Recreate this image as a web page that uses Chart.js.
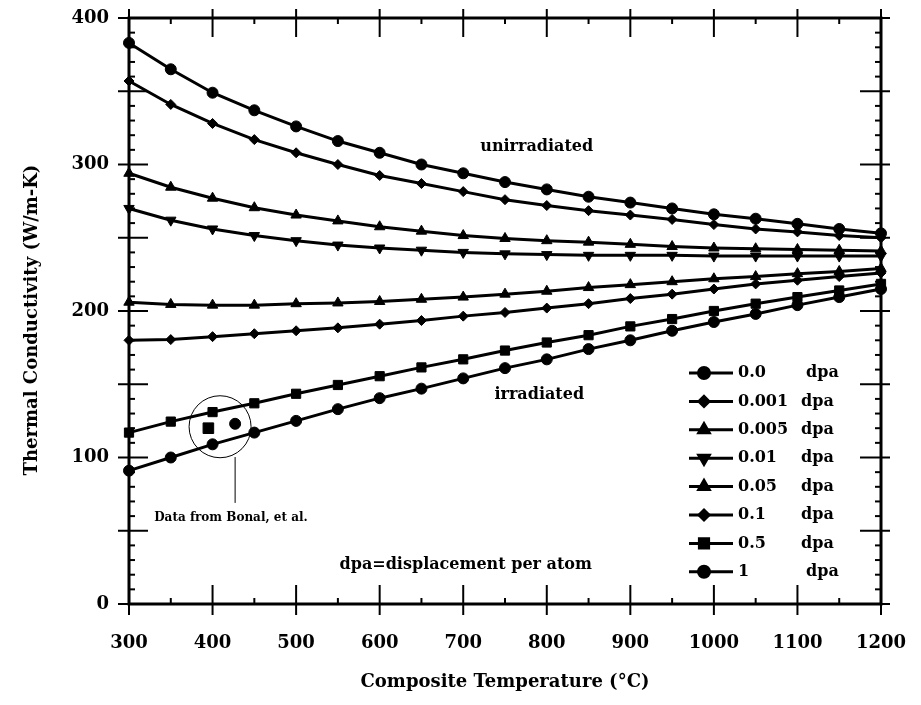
<!DOCTYPE html>
<html>
<head>
<meta charset="utf-8">
<title>Thermal Conductivity vs Composite Temperature</title>
<script src="https://cdn.jsdelivr.net/npm/chart.js@4.4.1/dist/chart.umd.min.js"></script>
<style>
  html, body { margin: 0; padding: 0; background: #fff; }
  canvas { display: block; }
</style>
</head>
<body>
<canvas id="myChart" width="921" height="705"></canvas>
<script>
/* globals Chart:false */
(() => {
  'use strict';

  // Composite temperature (°C), one point every 50 degrees
  const temps = [300, 350, 400, 450, 500, 550, 600, 650, 700, 750,
    800, 850, 900, 950, 1000, 1050, 1100, 1150, 1200];

  // Thermal conductivity (W/m-K) per damage level
  const k00 = [383, 365, 349, 337, 326, 316, 308, 300, 294, 288,
    283, 278, 274, 270, 266, 263, 259.5, 256, 253];
  const k0001 = [357, 341, 328, 317, 308, 300, 292.5, 287, 281.5, 276,
    272, 268.5, 265.5, 262.5, 259, 256, 254, 251.5, 250];
  const k0005 = [294, 284.5, 277, 270.5, 265.5, 261.5, 257.5, 254.5, 251.5, 249.5,
    248, 247, 245.5, 244, 243, 242.5, 242, 241.5, 241];
  const k001 = [270, 262, 256, 251.5, 248, 245, 243, 241.5, 240, 239,
    238.5, 238, 238, 238, 237.5, 237.5, 237.5, 237.5, 237.5];
  const k005 = [206, 204.5, 204, 204, 205, 205.5, 206.5, 208, 209.5, 211.5,
    213.5, 216, 218, 220, 222, 223.5, 225.5, 227, 229];
  const k01 = [180, 180.5, 182.5, 184.5, 186.5, 188.5, 191, 193.5, 196.5, 199,
    202, 205, 208.5, 211.5, 215, 218.5, 221, 223.5, 226];
  const k05 = [117, 124.5, 131, 137, 143.5, 149.5, 155.5, 161.5, 167, 173,
    178.5, 183.5, 189.5, 194.5, 200, 205, 209.5, 214, 218.5];
  const k1 = [91, 100, 109, 117, 125, 133, 140.5, 147, 154, 161,
    167, 174, 180, 186.5, 192.5, 198, 204, 209.5, 215];

  const dpaLabels = ['0.0', '0.001', '0.005', '0.01', '0.05', '0.1', '0.5', '1'];
  const seriesValues = [k00, k0001, k0005, k001, k005, k01, k05, k1];

  // Measured points (Bonal et al.)
  const bonalTemps = [395, 427];
  const bonalValues = [120, 123];

  // Axis ticks
  const xTicks = [300, 400, 500, 600, 700, 800, 900, 1000, 1100, 1200];
  const yTicks = [0, 100, 200, 300, 400];

  const FONT = 'DejaVu Serif';
  const markers = [
    { style: 'circle', radius: 5.5, rotation: 0 },
    { style: 'rectRot', radius: 5, rotation: 0 },
    { style: 'triangle', radius: 6, rotation: 0 },
    { style: 'triangle', radius: 6, rotation: 180 },
    { style: 'triangle', radius: 6, rotation: 0 },
    { style: 'rectRot', radius: 5, rotation: 0 },
    { style: 'rect', radius: 6.5, rotation: 0 },
    { style: 'circle', radius: 5.5, rotation: 0 }
  ];

  const datasets = seriesValues.map((vals, i) => ({
    label: dpaLabels[i] + ' dpa',
    data: temps.map((t, j) => ({ x: t, y: vals[j] })),
    borderColor: '#000',
    backgroundColor: '#000',
    borderWidth: 3,
    pointStyle: markers[i].style,
    pointRadius: markers[i].radius,
    pointRotation: markers[i].rotation,
    pointBorderWidth: 1,
    pointBackgroundColor: '#000',
    tension: 0,
    clip: false
  }));

  // Bonal data: one square, one circle, no line
  datasets.push({
    label: 'Bonal square',
    data: [{ x: bonalTemps[0], y: bonalValues[0] }],
    showLine: false,
    pointStyle: 'rect',
    pointRadius: 7.5,
    pointBackgroundColor: '#000',
    pointBorderColor: '#000',
    clip: false
  });
  datasets.push({
    label: 'Bonal circle',
    data: [{ x: bonalTemps[1], y: bonalValues[1] }],
    showLine: false,
    pointStyle: 'circle',
    pointRadius: 5.5,
    pointBackgroundColor: '#000',
    pointBorderColor: '#000',
    clip: false
  });

  // Frame with inner/outer tick marks on all four sides
  const axisFrame = {
    id: 'axisFrame',
    afterDatasetsDraw(chart) {
      const { ctx, chartArea: { left, right, top, bottom }, scales: { x, y } } = chart;
      const seg = (x1, y1, x2, y2) => {
        ctx.beginPath();
        ctx.moveTo(x1, y1);
        ctx.lineTo(x2, y2);
        ctx.stroke();
      };
      ctx.save();
      ctx.strokeStyle = '#000';
      ctx.lineWidth = 3;
      ctx.strokeRect(left, top, right - left, bottom - top);
      ctx.lineWidth = 2;
      for (let t = x.min; t <= x.max; t += 50) {
        const px = x.getPixelForValue(t);
        const major = t % 100 === 0;
        seg(px, bottom - (major ? 19 : 6), px, bottom + (major ? 11 : 0));
        seg(px, top - (major ? 9 : 0), px, top + (major ? 19 : 6));
      }
      for (let v = y.min; v <= y.max; v += 10) {
        const py = y.getPixelForValue(v);
        const major = v % 50 === 0;
        seg(left - (major ? 11 : 0), py, left + (major ? 19 : 6), py);
        seg(right - (major ? 21 : 6), py, right + (major ? 9 : 0), py);
      }
      ctx.restore();
    }
  };

  // Titles, notes, legend and the Bonal circle
  const notes = {
    id: 'notes',
    afterDraw(chart) {
      const { ctx, chartArea: { left, right }, scales: { x, y } } = chart;
      ctx.save();
      ctx.fillStyle = '#000';
      ctx.strokeStyle = '#000';
      ctx.textAlign = 'center';
      ctx.textBaseline = 'middle';

      // axis titles
      ctx.font = 'bold 18px "' + FONT + '"';
      ctx.fillText('Composite Temperature (°C)', (left + right) / 2, 682);
      ctx.save();
      ctx.translate(32, 320);
      ctx.rotate(-Math.PI / 2);
      ctx.fillText('Thermal Conductivity (W/m-K)', 0, 0);
      ctx.restore();

      // in-plot labels
      ctx.font = 'bold 16px "' + FONT + '"';
      ctx.fillText('unirradiated', x.getPixelForValue(788), y.getPixelForValue(312));
      ctx.fillText('irradiated', x.getPixelForValue(791), y.getPixelForValue(143));
      ctx.fillText('dpa=displacement per atom', x.getPixelForValue(703), y.getPixelForValue(27));

      // circle around Bonal data with a leader line
      ctx.lineWidth = 1;
      ctx.beginPath();
      ctx.arc(x.getPixelForValue(409), y.getPixelForValue(121), 31, 0, Math.PI * 2);
      ctx.stroke();
      const lx = x.getPixelForValue(427);
      ctx.beginPath();
      ctx.moveTo(lx, y.getPixelForValue(100.3));
      ctx.lineTo(lx, y.getPixelForValue(69));
      ctx.stroke();
      ctx.font = 'bold 12px "' + FONT + '"';
      ctx.fillText('Data from Bonal, et al.', x.getPixelForValue(422), y.getPixelForValue(58.7));

      // legend
      ctx.textAlign = 'left';
      ctx.font = 'bold 16px "' + FONT + '"';
      for (let i = 0; i < dpaLabels.length; i++) {
        const ds = chart.data.datasets[i];
        const ry = 373 + i * 28.4;
        ctx.lineWidth = 3;
        ctx.beginPath();
        ctx.moveTo(689, ry);
        ctx.lineTo(733, ry);
        ctx.stroke();
        Chart.helpers.drawPoint(ctx, {
          pointStyle: ds.pointStyle,
          radius: ds.pointRadius,
          rotation: ds.pointRotation,
          borderWidth: 1
        }, 704, ry);
        ctx.fill();
        ctx.fillText(dpaLabels[i], 738, ry);
        ctx.fillText('dpa', (i === 0 || i === dpaLabels.length - 1) ? 806 : 801, ry);
      }
      ctx.restore();
    }
  };

  const ctx = document.getElementById('myChart');
  // eslint-disable-next-line no-unused-vars
  const myChart = new Chart(ctx, {
    type: 'line',
    data: { datasets },
    options: {
      responsive: false,
      animation: false,
      devicePixelRatio: 1,
      events: [],
      layout: { padding: { top: 18, right: 40, bottom: 0, left: 0 } },
      plugins: {
        legend: { display: false },
        tooltip: { enabled: false }
      },
      scales: {
        x: {
          type: 'linear',
          min: 300,
          max: 1200,
          afterFit: (scale) => {
            scale.height = 101;
            scale.paddingLeft = 0;
            scale.paddingRight = 0;
          },
          afterBuildTicks: (scale) => { scale.ticks = xTicks.map(v => ({ value: v })); },
          grid: { display: false, drawTicks: false },
          border: { display: false },
          ticks: {
            padding: 29,
            color: '#000',
            maxRotation: 0,
            callback: (value) => String(value),
            font: { family: FONT, size: 18, weight: 'bold' }
          }
        },
        y: {
          min: 0,
          max: 400,
          afterFit: (scale) => {
            scale.width = 129;
            scale.paddingTop = 0;
            scale.paddingBottom = 0;
          },
          afterBuildTicks: (scale) => { scale.ticks = yTicks.map(v => ({ value: v })); },
          grid: { display: false, drawTicks: false },
          border: { display: false },
          ticks: {
            padding: 20,
            color: '#000',
            callback: (value) => String(value),
            font: { family: FONT, size: 18, weight: 'bold' }
          }
        }
      }
    },
    plugins: [axisFrame, notes]
  });
})();
</script>
</body>
</html>
